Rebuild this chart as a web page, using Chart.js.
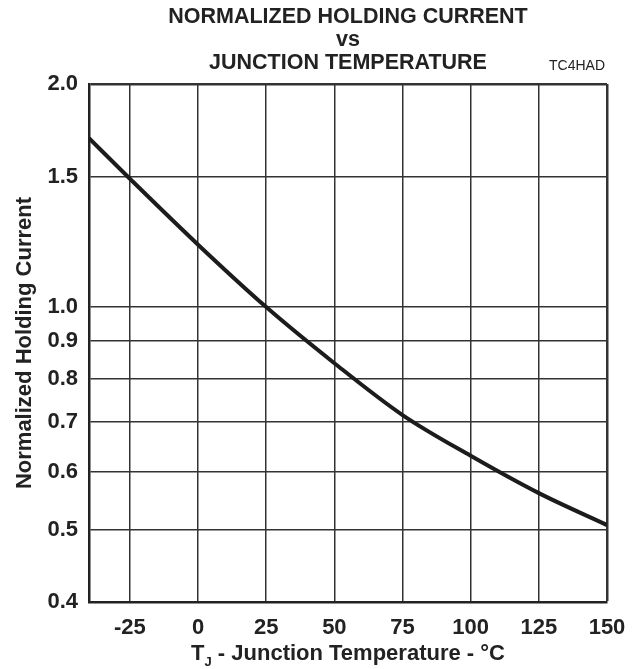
<!doctype html>
<html lang="en">
<head>
<meta charset="utf-8">
<title>Normalized Holding Current vs Junction Temperature</title>
<script src="https://cdn.jsdelivr.net/npm/chart.js@4.4.0/dist/chart.umd.min.js"></script>
<style>
  html, body { margin: 0; padding: 0; background: #fff; }
  #wrap { width: 641px; height: 669px; }
</style>
</head>
<body>
<div id="wrap"><canvas id="holdChart" width="641" height="669"></canvas></div>
<script>
// values
const temperatures = [-40, -25, 0, 25, 50, 75, 100, 125, 150];
const holdingCurrent = [1.69, 1.49, 1.214, 1.0, 0.84, 0.715, 0.63, 0.561, 0.508];

const xTicks = [-25, 0, 25, 50, 75, 100, 125, 150];
const yTicks = [0.4, 0.5, 0.6, 0.7, 0.8, 0.9, 1.0, 1.5, 2.0];

const titleLines = ['NORMALIZED HOLDING CURRENT', 'vs', 'JUNCTION TEMPERATURE'];
const figureCode = 'TC4HAD';

const FONT = "'Liberation Sans', Arial, sans-serif";
const INK = '#222';

// titles, figure code and the x axis label (with subscript J)
const textPlugin = {
    id: 'textPlugin',
    afterDraw(chart) {
        const ctx = chart.ctx;
        const area = chart.chartArea;
        const cx = (area.left + area.right) / 2;
        ctx.save();
        ctx.fillStyle = INK;
        ctx.textBaseline = 'middle';
        ctx.textAlign = 'center';
        ctx.font = 'bold 21.5px ' + FONT;
        titleLines.forEach((line, i) => ctx.fillText(line, cx, 17 + i * 23));

        ctx.font = '14px ' + FONT;
        ctx.textAlign = 'right';
        ctx.fillText(figureCode, area.right - 2, 66);

        // x axis title
        const y = 654;
        ctx.font = 'bold 22px ' + FONT;
        const main = ' - Junction Temperature - \u00B0C';
        const wT = ctx.measureText('T').width;
        const wMain = ctx.measureText(main).width;
        ctx.font = 'bold 13px ' + FONT;
        const wJ = ctx.measureText('J').width;
        const total = wT + wJ + wMain;
        let x = cx - total / 2;
        ctx.textAlign = 'left';
        ctx.font = 'bold 22px ' + FONT;
        ctx.fillText('T', x, y);
        x += wT;
        ctx.font = 'bold 13px ' + FONT;
        ctx.fillText('J', x, y + 8);
        x += wJ;
        ctx.font = 'bold 22px ' + FONT;
        ctx.fillText(main, x, y);
        ctx.restore();
    }
};

new Chart(document.getElementById('holdChart'), {
    type: 'line',
    data: {
        datasets: [{
            data: temperatures.map((t, i) => ({ x: t, y: holdingCurrent[i] })),
            borderColor: '#1c1c1c',
            borderWidth: 4,
            pointRadius: 0,
            fill: false,
            cubicInterpolationMode: 'monotone'
        }]
    },
    options: {
        responsive: false,
        animation: false,
        layout: { padding: { top: 84, right: 34, left: 0, bottom: 0 } },
        plugins: {
            legend: { display: false },
            tooltip: { enabled: false }
        },
        scales: {
            x: {
                type: 'linear',
                min: -40,
                max: 150,
                afterBuildTicks: scale => { scale.ticks = xTicks.map(v => ({ value: v })); },
                afterFit: scale => { scale.height = 67; },
                grid: {
                    color: '#333',
                    lineWidth: ctx => (ctx.tick && ctx.tick.value === 150 ? 2.5 : 1.5),
                    drawTicks: false
                },
                border: { color: '#222', width: 2.5 },
                ticks: {
                    padding: 13,
                    color: INK,
                    maxRotation: 0,
                    autoSkip: false,
                    font: { family: FONT, size: 22, weight: 'bold' }
                }
            },
            y: {
                type: 'logarithmic',
                min: 0.4,
                max: 2.0,
                afterBuildTicks: scale => { scale.ticks = yTicks.map(v => ({ value: v })); },
                afterFit: scale => { scale.width = 89; },
                grid: {
                    color: '#333',
                    lineWidth: ctx => (ctx.tick && ctx.tick.value === 2.0 ? 2.5 : 1.5),
                    drawTicks: false
                },
                border: { color: '#222', width: 2.5 },
                ticks: {
                    padding: 11,
                    color: INK,
                    autoSkip: false,
                    font: { family: FONT, size: 22, weight: 'bold' },
                    callback: v => Number(v).toFixed(1)
                },
                title: {
                    display: true,
                    text: 'Normalized Holding Current',
                    color: INK,
                    padding: { top: 12, bottom: 0 },
                    font: { family: FONT, size: 22, weight: 'bold' }
                }
            }
        }
    },
    plugins: [textPlugin]
});
</script>
</body>
</html>
